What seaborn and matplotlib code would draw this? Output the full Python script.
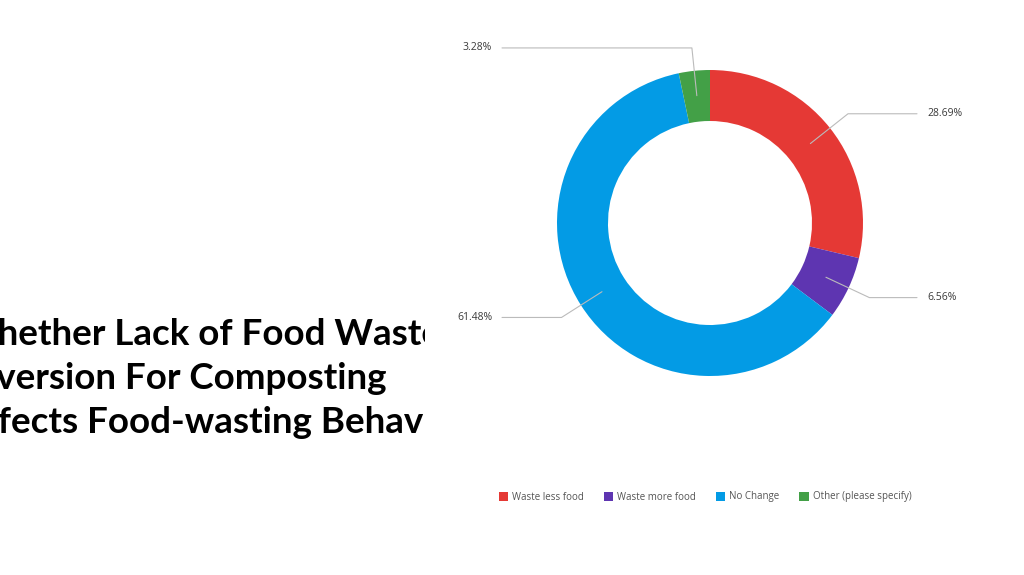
import numpy as np
import matplotlib
matplotlib.use("Agg")
import matplotlib.pyplot as plt
from matplotlib.patches import Patch
import seaborn as sns

# data
categories = ["Waste less food", "Waste more food", "No Change", "Other (please specify)"]
shares = [28.69, 6.56, 61.48, 3.28]
share_labels = ["28.69%", "6.56%", "61.48%", "3.28%"]
colors = ["#E53935", "#5E35B1", "#039BE5", "#43A047"]
title_lines = ["Whether Lack of Food Waste", "Diversion For Composting", "Affects Food-wasting Behavior"]

sns.set_theme(style="white")
plt.rcParams['font.family'] = ['Open Sans', 'DejaVu Sans']

fig = plt.figure(figsize=(10.24, 5.75), dpi=100)
fig.patch.set_facecolor('white')

# slide title, cut off on both sides like the original
tax = fig.add_axes([0, 0, 425 / 1024, 1])
tax.set_xlim(0, 425)
tax.set_ylim(575, 0)
tax.axis('off')
for i, line in enumerate(title_lines):
    tax.text(-41, 345 + i * 44, line, fontsize=26.5, fontweight='bold',
             family=['Lato', 'DejaVu Sans'], color='black',
             va='baseline', ha='left', clip_on=True)

# donut
ax = fig.add_axes([0, 0, 1, 1])
cx, cy = 710, 575 - 223
r_out, ring = 153, 51
wedges, _ = ax.pie(shares, colors=colors, startangle=90, counterclock=False,
                   radius=r_out, center=(cx, cy),
                   wedgeprops=dict(width=ring, linewidth=0))
ax.set_xlim(0, 1024)
ax.set_ylim(0, 575)
ax.set_aspect('equal')
ax.axis('off')

# leader lines + percent labels
for w, lab in zip(wedges, share_labels):
    ang = np.deg2rad((w.theta1 + w.theta2) / 2)
    x0, y0 = cx + 128 * np.cos(ang), cy + 128 * np.sin(ang)
    x1, y1 = cx + 176 * np.cos(ang), cy + 176 * np.sin(ang)
    right = np.cos(ang) > 0
    x2 = 917 if right else 502
    ax.plot([x0, x1, x2], [y0, y1, y1], color='#bbbbbb', lw=0.8)
    ax.text(x2 + (10 if right else -10), y1, lab,
            ha='left' if right else 'right', va='center',
            fontsize=7.5, color='#3a3a3a')

handles = [Patch(facecolor=c, edgecolor='none') for c in colors]
fig.legend(handles, categories, loc='center',
           bbox_to_anchor=(705 / 1024, 1 - 497 / 575), ncol=4, frameon=False,
           fontsize=7, handlelength=1.0, handleheight=1.0, handletextpad=0.4,
           columnspacing=2.0, labelcolor='#555555')

fig.savefig("out.png", dpi=100, facecolor='white')
